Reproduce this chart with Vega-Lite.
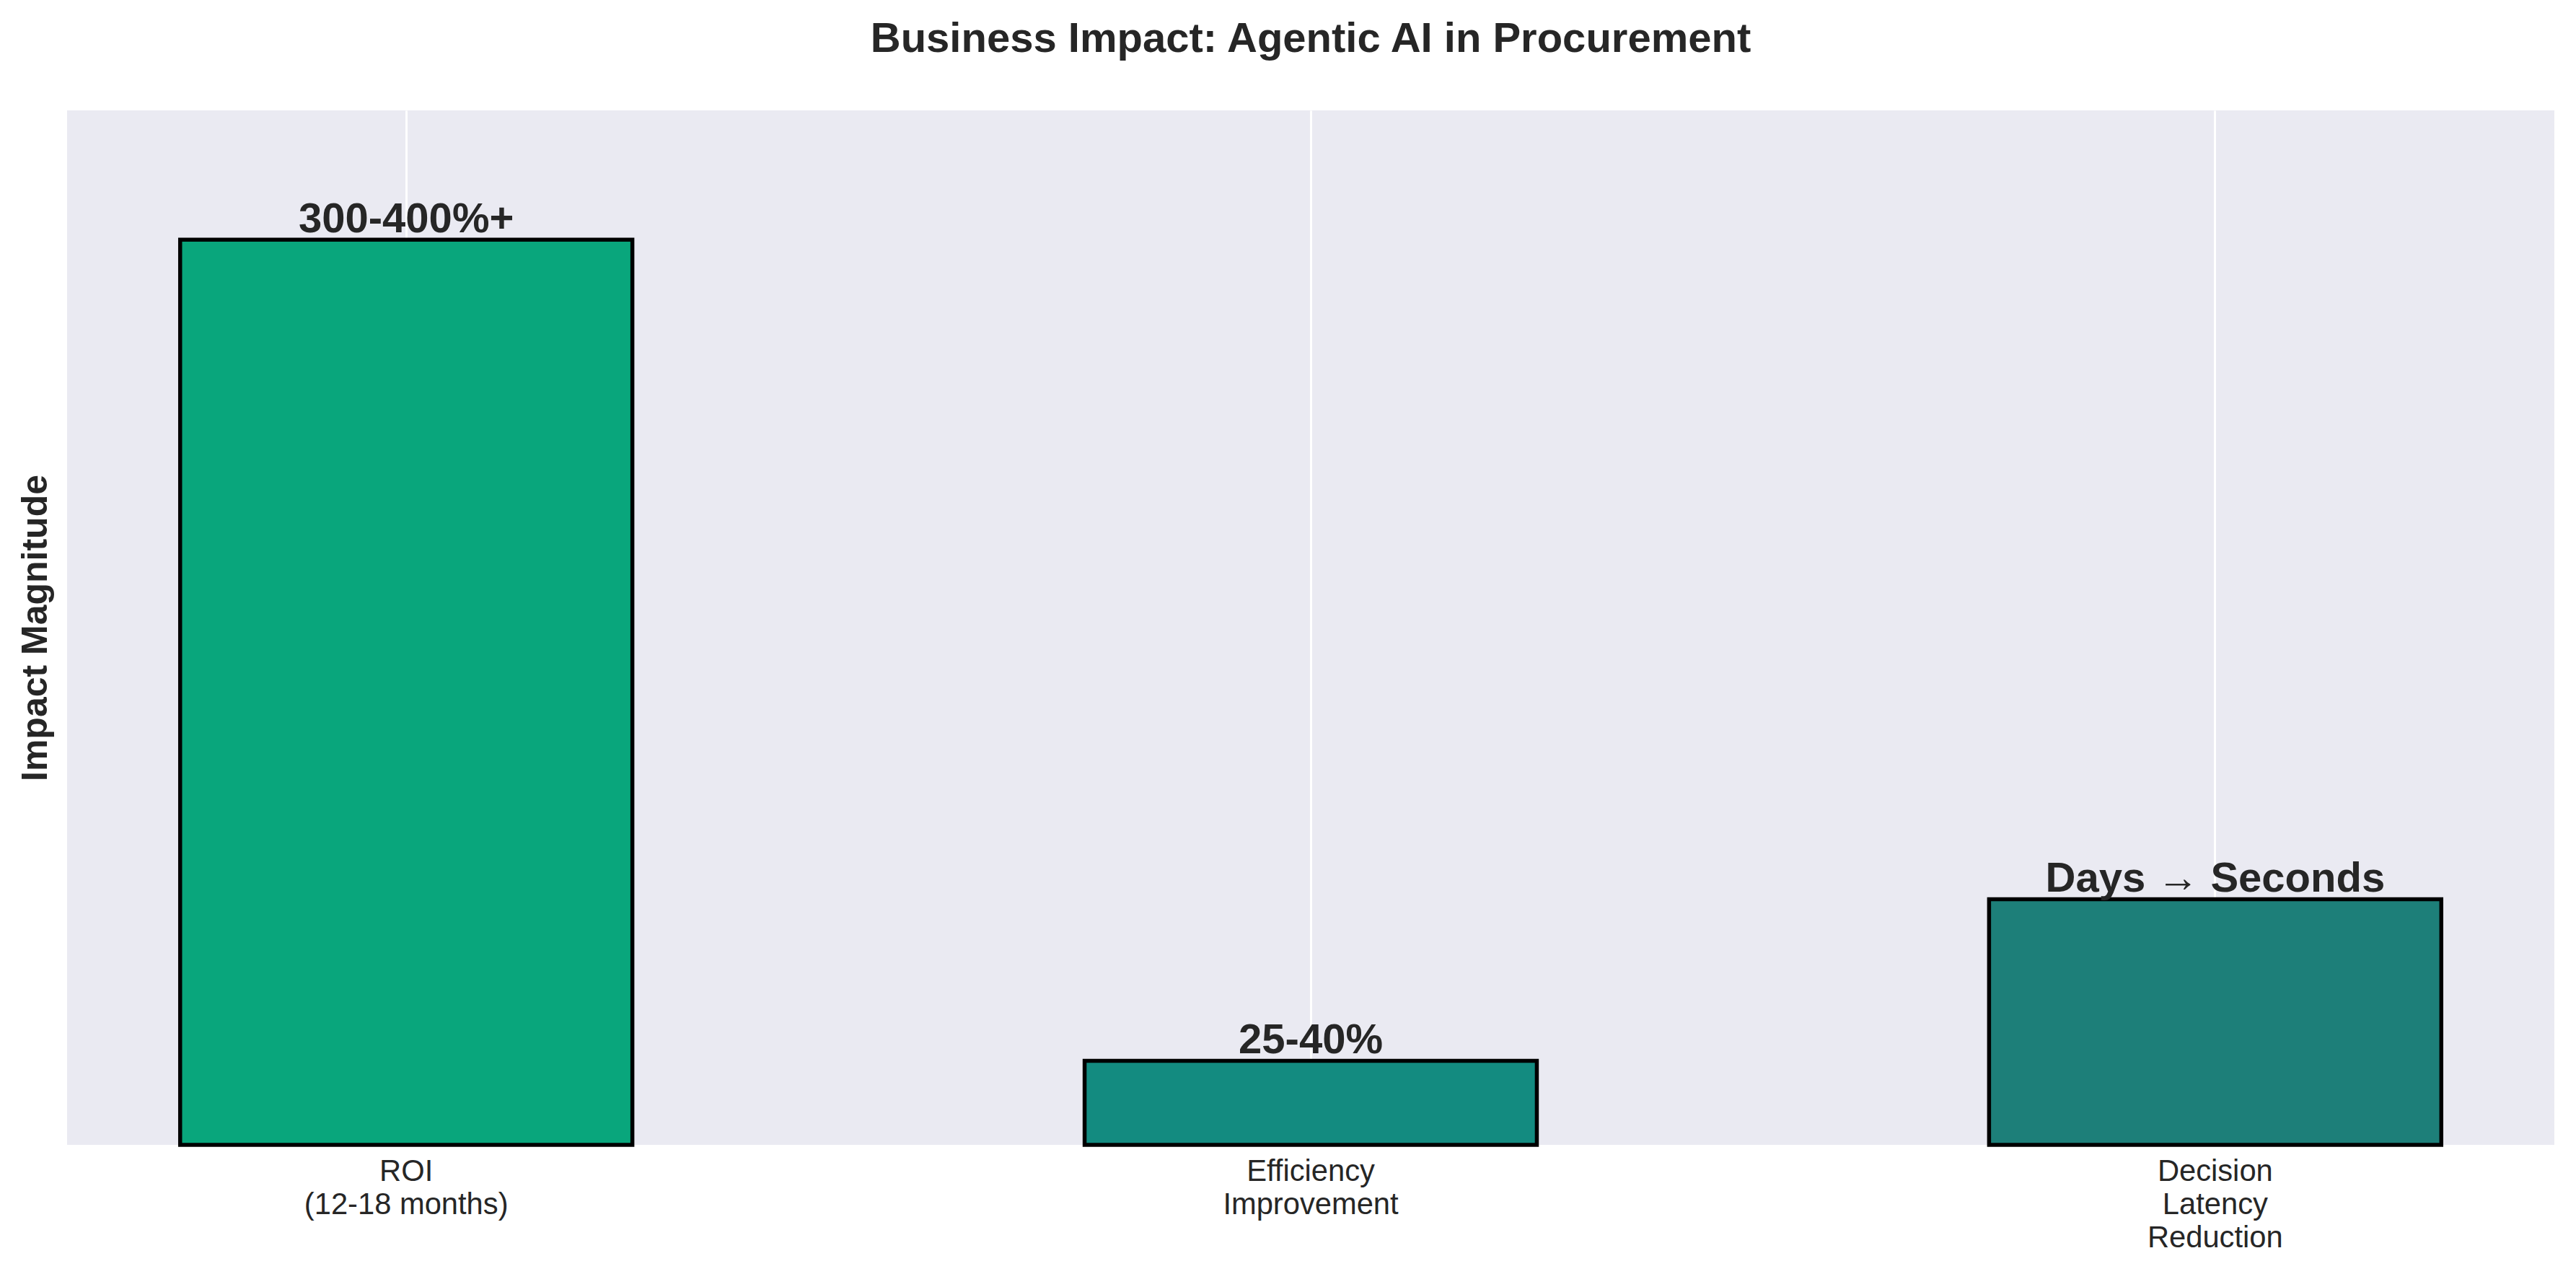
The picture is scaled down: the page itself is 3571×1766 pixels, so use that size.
{
  "$schema": "https://vega.github.io/schema/vega-lite/v6.json",
  "autosize": {"type": "none"},
  "width": 3448,
  "height": 1434,
  "padding": {"left": 93, "top": 153, "right": 30, "bottom": 179},
  "background": "white",
  "title": {
    "text": "Business Impact: Agentic AI in Procurement",
    "fontSize": 58,
    "fontWeight": "bold",
    "font": "Liberation Sans",
    "color": "#262626",
    "anchor": "middle",
    "baseline": "alphabetic",
    "offset": 23
  },
  "config": {
    "view": {"fill": "#EAEAF2", "stroke": null},
    "font": "Liberation Sans"
  },
  "data": {
    "values": [
      {"category": "ROI\n(12-18 months)", "value": 350, "label": "300-400%+"},
      {"category": "Efficiency\nImprovement", "value": 32.5, "label": "25-40%"},
      {"category": "Decision\nLatency\nReduction", "value": 95, "label": "Days → Seconds"}
    ]
  },
  "encoding": {
    "x": {
      "field": "category",
      "type": "nominal",
      "sort": null,
      "scale": {"paddingInner": 0.5, "paddingOuter": 0.125},
      "axis": {
        "title": null,
        "labelAngle": 0,
        "labelExpr": "split(datum.value, '\\n')",
        "labelFontSize": 41.7,
        "labelColor": "#262626",
        "labelFont": "Liberation Sans",
        "labelLineHeight": 46,
        "labelBaseline": "top",
        "labelPadding": 16,
        "labelLimit": 0,
        "ticks": false,
        "tickSize": 0,
        "domain": false,
        "grid": true,
        "gridColor": "#FFFFFF",
        "gridWidth": 3,
        "bandPosition": 0.5,
        "zindex": 0
      }
    },
    "y": {
      "field": "value",
      "type": "quantitative",
      "scale": {"domain": [0, 400], "nice": false, "zero": true},
      "axis": {
        "title": "Impact Magnitude",
        "titleFontSize": 50,
        "titleFontWeight": "bold",
        "titleFont": "Liberation Sans",
        "titleColor": "#262626",
        "titleAngle": -90,
        "titleBaseline": "alphabetic",
        "titleAlign": "center",
        "titleX": -29,
        "titleY": 717,
        "labels": false,
        "ticks": false,
        "grid": false,
        "domain": false
      }
    }
  },
  "layer": [
    {
      "mark": {"type": "bar", "stroke": "#000000", "strokeWidth": 5.5},
      "encoding": {
        "color": {
          "field": "label",
          "type": "nominal",
          "scale": {
            "domain": ["300-400%+", "25-40%", "Days → Seconds"],
            "range": ["#09A67C", "#138B80", "#1D7F79"]
          },
          "legend": null
        }
      }
    },
    {
      "mark": {
        "type": "text",
        "fontSize": 58,
        "fontWeight": "bold",
        "font": "Liberation Sans",
        "color": "#262626",
        "align": "center",
        "baseline": "alphabetic",
        "dy": -10
      },
      "encoding": {
        "text": {"field": "label"}
      }
    }
  ]
}
